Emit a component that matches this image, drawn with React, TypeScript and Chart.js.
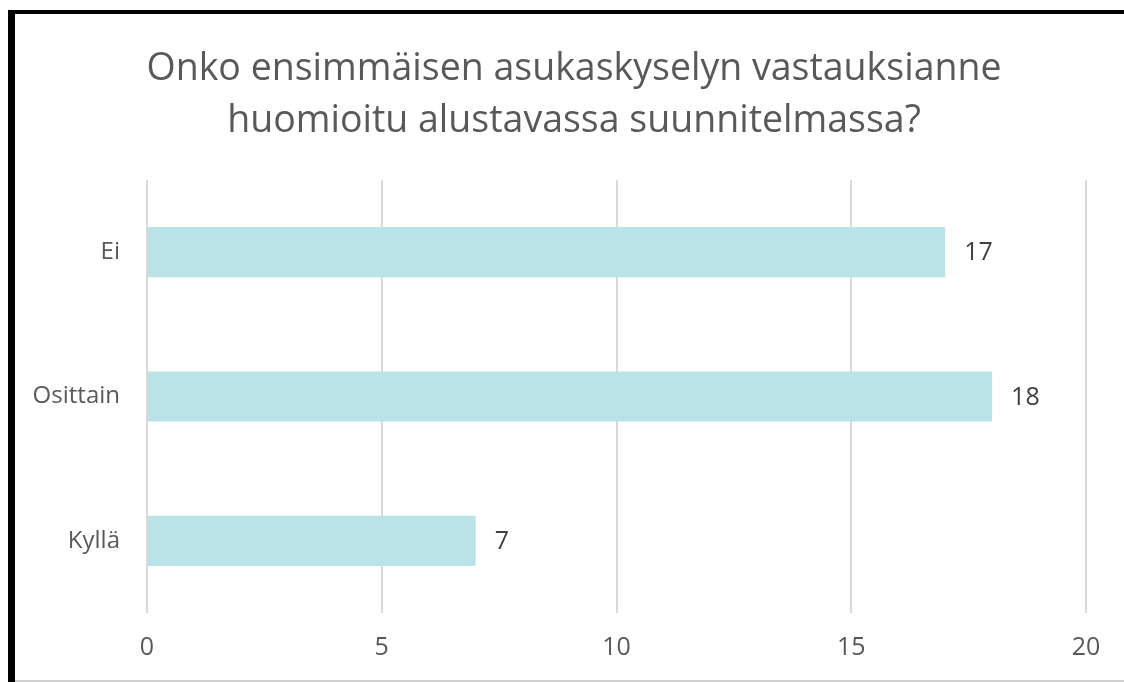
import React, { useEffect, useRef } from "react";
import { Chart, registerables } from "chart.js";

Chart.register(...registerables);

const categories: string[] = ["Ei", "Osittain", "Kyllä"];
const values: number[] = [17, 18, 7];
const xTicks: number[] = [0, 5, 10, 15, 20];
const titleLines: string[] = [
  "Onko ensimmäisen asukaskyselyn vastauksianne",
  "huomioitu alustavassa suunnitelmassa?",
];

const FONT = "'Open Sans', 'Noto Sans', sans-serif";

const valueLabels = {
  id: "valueLabels",
  afterDatasetsDraw(chart: any) {
    const { ctx } = chart;
    const meta = chart.getDatasetMeta(0);
    ctx.save();
    ctx.font = `25px ${FONT}`;
    ctx.fillStyle = "#404040";
    ctx.textAlign = "left";
    ctx.textBaseline = "middle";
    meta.data.forEach((bar: any, i: number) => {
      ctx.fillText(String(values[i]), bar.x + 19, bar.y + 1);
    });
    ctx.restore();
  },
};

const titlePlugin = {
  id: "customTitle",
  afterDraw(chart: any) {
    const { ctx } = chart;
    ctx.save();
    ctx.font = `37.5px ${FONT}`;
    ctx.fillStyle = "#595959";
    ctx.textAlign = "center";
    ctx.textBaseline = "middle";
    titleLines.forEach((line, i) => {
      ctx.fillText(line, 574, 69 + i * 52);
    });
    ctx.restore();
  },
};

export default function App() {
  const ref = useRef<HTMLCanvasElement | null>(null);
  useEffect(() => {
    if (!ref.current) return;
    const chart = new Chart(ref.current, {
      type: "bar",
      data: {
        labels: categories,
        datasets: [
          {
            data: values,
            backgroundColor: "#B9E3E6",
            barPercentage: 0.5,
            categoryPercentage: 0.694,
          },
        ],
      },
      options: {
        indexAxis: "y",
        animation: false,
        responsive: false,
        maintainAspectRatio: false,
        layout: { padding: { left: 0, right: 38, top: 180, bottom: 0 } },
        plugins: {
          legend: { display: false },
          tooltip: { enabled: false },
          title: { display: false },
        },
        scales: {
          x: {
            min: 0,
            max: 20,
            afterBuildTicks: (scale: any) => {
              scale.ticks = xTicks.map((v) => ({ value: v }));
            },
            afterFit: (scale: any) => {
              scale.height = 69;
            },
            grid: { color: "#D9D9D9", lineWidth: 2, drawTicks: false },
            border: { display: false },
            ticks: {
              color: "#595959",
              font: { family: FONT, size: 25 },
              padding: 20,
            },
          },
          y: {
            afterFit: (scale: any) => {
              scale.width = 147;
            },
            grid: { display: false, drawTicks: false },
            border: { display: false },
            ticks: {
              color: "#595959",
              font: { family: FONT, size: 24 },
              padding: 27,
            },
          },
        },
      },
      plugins: [valueLabels, titlePlugin],
    });
    return () => chart.destroy();
  }, []);

  return (
    <div
      style={{
        position: "fixed",
        left: 0,
        top: 0,
        width: 1124,
        height: 682,
        background: "#fff",
        overflow: "hidden",
      }}
    >
      <canvas
        ref={ref}
        width={1124}
        height={682}
        style={{ position: "absolute", left: 0, top: 0, width: 1124, height: 682 }}
      />
      <div style={{ position: "absolute", left: 8, top: 10, width: 7, height: 672, background: "#000" }} />
      <div style={{ position: "absolute", left: 8, top: 10, width: 1116, height: 4, background: "#000" }} />
      <div style={{ position: "absolute", left: 15, top: 680, width: 1109, height: 2, background: "#d0d0d0" }} />
    </div>
  );
}
